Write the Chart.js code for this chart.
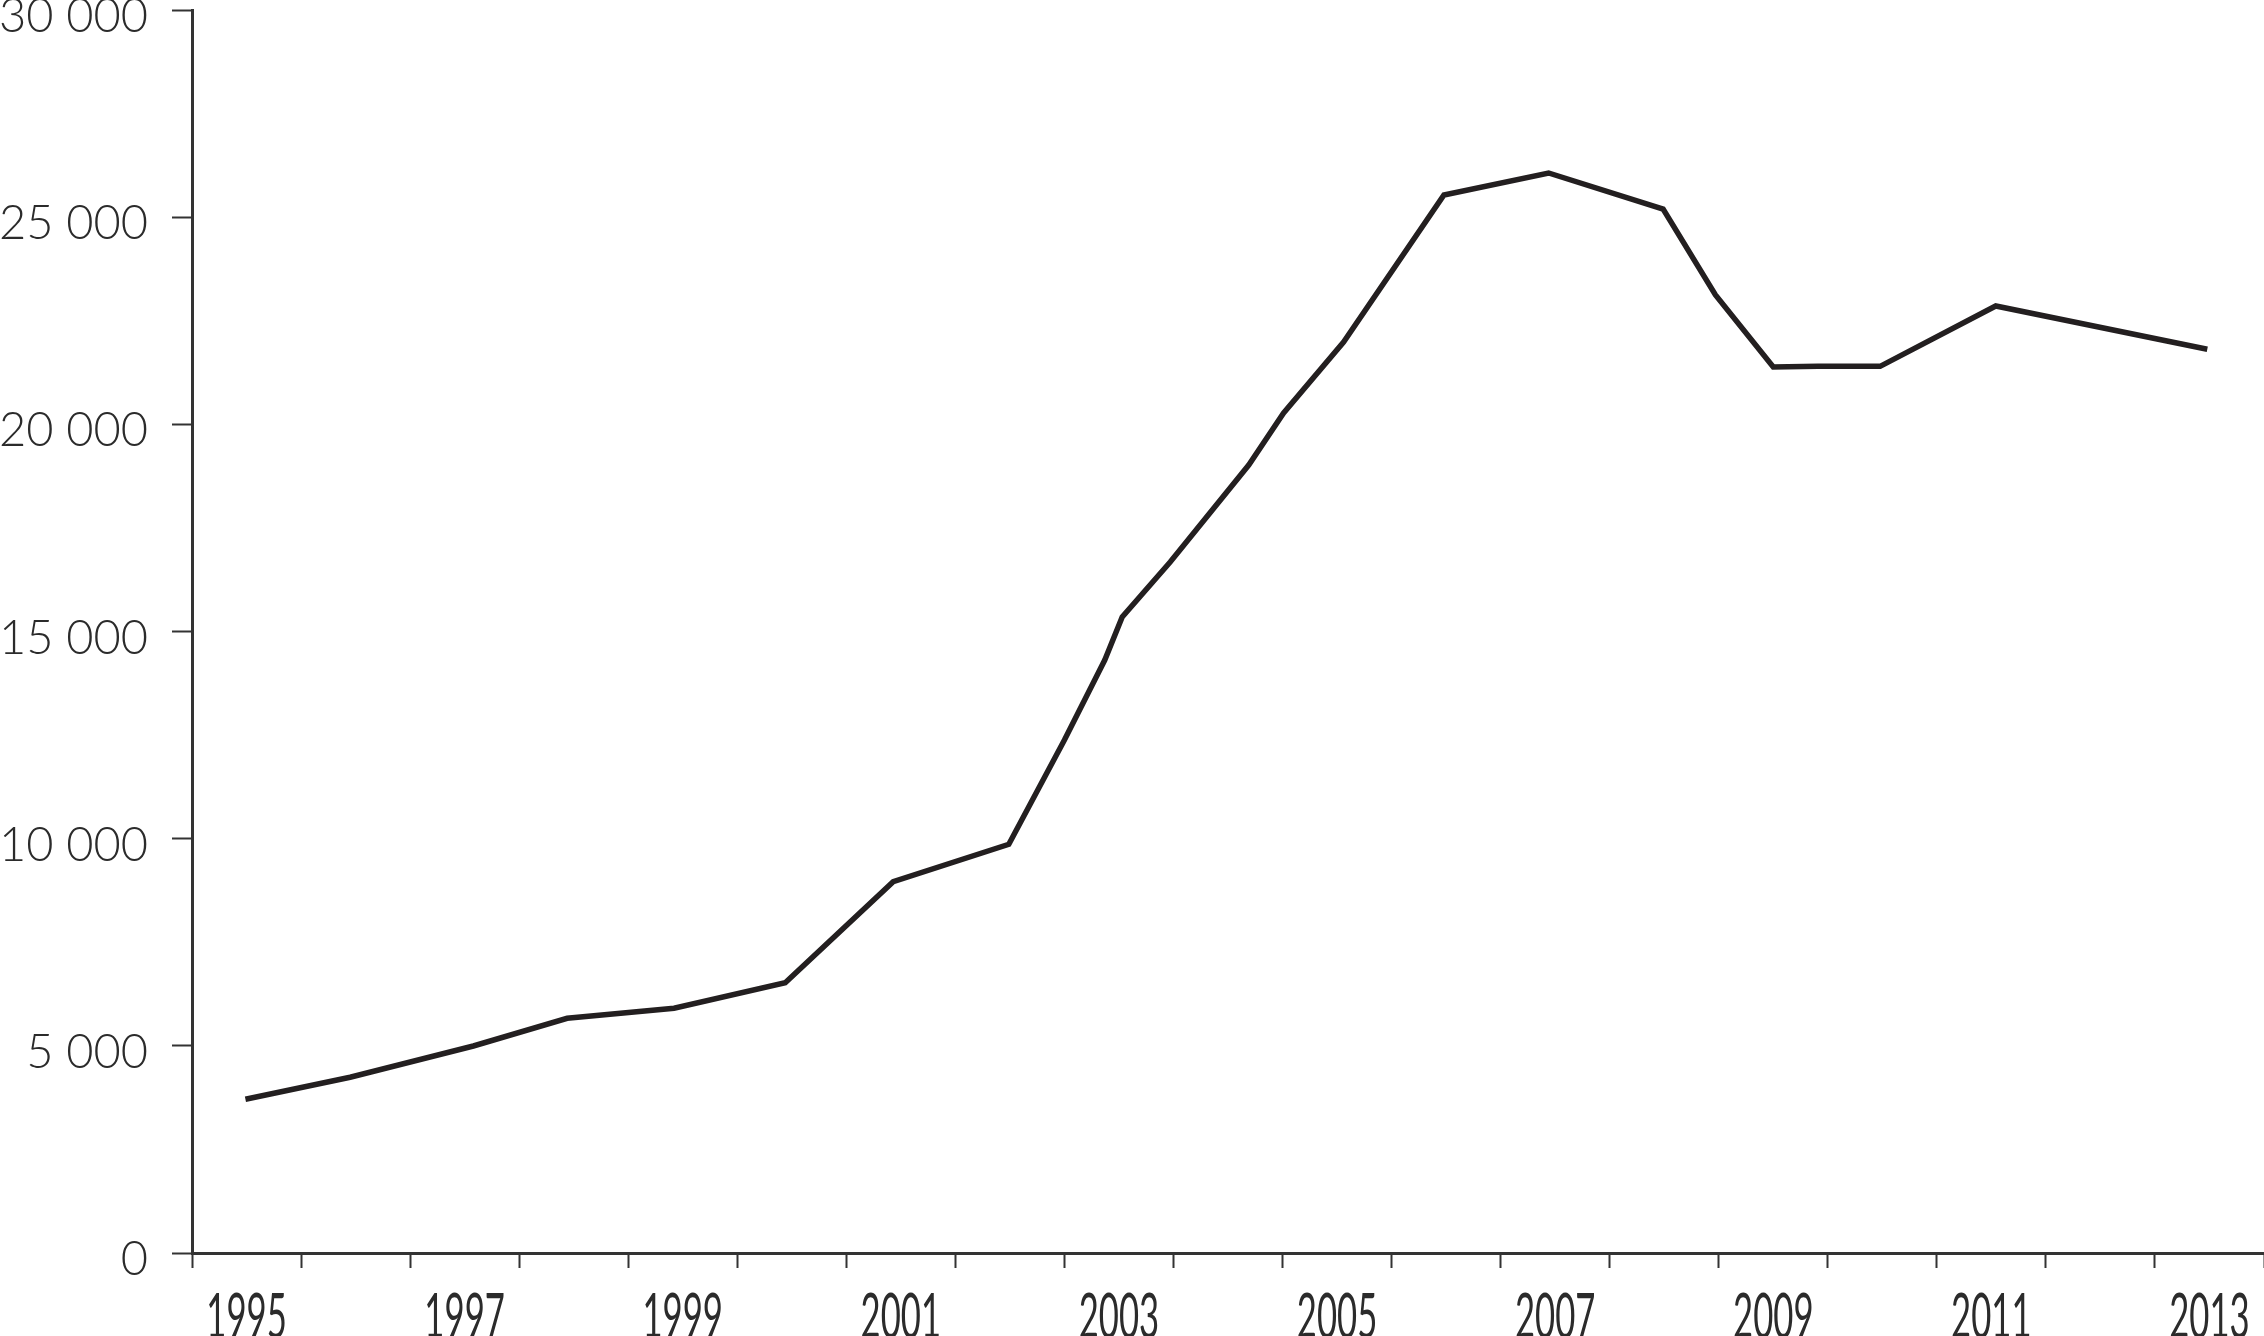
<!DOCTYPE html>
<html>
<head>
<meta charset="utf-8">
<script src="https://cdn.jsdelivr.net/npm/chart.js@4.4.1/dist/chart.umd.min.js"></script>
<style>
  html, body { margin: 0; padding: 0; background: #fff; overflow: hidden; }
  canvas { display: block; }
</style>
</head>
<body>
<canvas id="lineChart" width="2264" height="1345"></canvas>
<script>
// x positions (decimal years, mid-year points plus a few in-between vertices)
const yearPos = [1995.49, 1996.45, 1997.58, 1998.44, 1999.42, 2000.44, 2001.43, 2002.49,
                 2003.0, 2003.37, 2003.53, 2003.97, 2004.69, 2005.01, 2005.56, 2006.48,
                 2007.44, 2008.49, 2008.97, 2009.5, 2009.91, 2010.48, 2011.54, 2013.48];
const values = [3710, 4241, 4996, 5665, 5906, 6524, 8961, 9864,
                12381, 14312, 15350, 16677, 19018, 20273, 21987, 25535,
                26066, 25197, 23121, 21384, 21400, 21400, 22856, 21811];

// axis range / tick labels
const yearStart = 1995;
const yearEnd = 2014;
const yearLabels = ['1995', '1997', '1999', '2001', '2003', '2005', '2007', '2009', '2011', '2013'];
const yMax = 30000;
const yStep = 5000;

const ink = '#231f20';
const axisInk = '#333333';
const textInk = '#2b2b2b';

const points = yearPos.map((x, i) => ({ x: x, y: values[i] }));

function spaced(v) {
    return String(v).replace(/\B(?=(\d{3})+(?!\d))/g, ' ');
}

// year labels sit in the middle of each year slot, in a narrow (squeezed) face
const yearLabelPlugin = {
    id: 'yearLabels',
    afterDraw(chart) {
        const xs = chart.scales.x;
        const c = chart.ctx;
        c.save();
        c.font = '400 62px Lato';
        c.fillStyle = textInk;
        c.textAlign = 'center';
        c.textBaseline = 'alphabetic';
        const baseY = xs.top + 85;
        yearLabels.forEach(lbl => {
            const px = xs.getPixelForValue(Number(lbl) + 0.5);
            c.save();
            c.translate(px, baseY);
            c.scale(0.56, 1);
            c.fillText(lbl, 0, 0);
            c.restore();
        });
        c.restore();
    }
};

const ctx = document.getElementById('lineChart');
new Chart(ctx, {
    type: 'line',
    data: {
        datasets: [{
            data: points,
            borderColor: ink,
            borderWidth: 5.5,
            pointRadius: 0,
            tension: 0,
            fill: false
        }]
    },
    options: {
        responsive: false,
        animation: false,
        events: [],
        layout: { padding: { top: 10, left: 0, right: 0, bottom: 0 } },
        plugins: {
            legend: { display: false },
            tooltip: { enabled: false }
        },
        scales: {
            x: {
                type: 'linear',
                min: yearStart,
                max: yearEnd,
                grid: {
                    drawOnChartArea: false,
                    drawTicks: true,
                    tickLength: 15,
                    tickWidth: 2,
                    tickColor: axisInk
                },
                border: { display: true, color: axisInk, width: 3 },
                ticks: {
                    display: false,
                    stepSize: 1,
                    autoSkip: false
                },
                afterFit: function(scale) {
                    scale.height = 92;
                    scale.paddingLeft = 0;
                    scale.paddingRight = 0;
                }
            },
            y: {
                min: 0,
                max: yMax,
                grid: {
                    drawOnChartArea: false,
                    drawTicks: true,
                    tickLength: 20,
                    tickWidth: 2,
                    tickColor: axisInk
                },
                border: { display: true, color: axisInk, width: 3 },
                ticks: {
                    stepSize: yStep,
                    padding: 24,
                    labelOffset: 7,
                    color: textInk,
                    font: { family: 'Lato', weight: 300, size: 47 },
                    callback: function(value) { return spaced(value); }
                },
                afterFit: function(scale) {
                    scale.width = 192;
                    scale.paddingTop = 0;
                    scale.paddingBottom = 0;
                }
            }
        }
    },
    plugins: [yearLabelPlugin]
});
</script>
</body>
</html>
